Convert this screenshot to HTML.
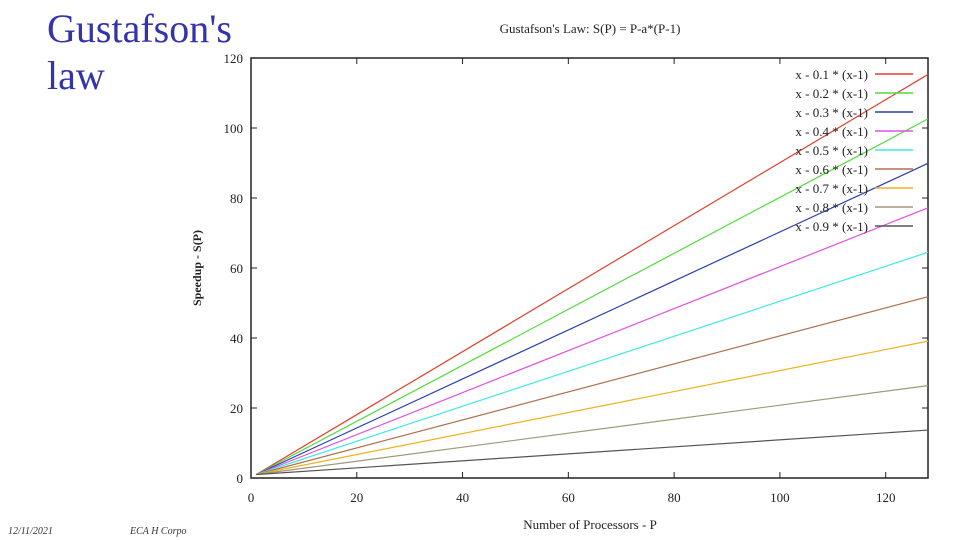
<!DOCTYPE html>
<html><head><meta charset="utf-8"><style>
html,body{margin:0;padding:0;background:#fff;width:960px;height:540px;overflow:hidden}
svg{display:block}
text{font-family:"Liberation Serif",serif}
</style></head><body>
<svg id="c" width="960" height="540">
<text x="47" y="42" font-size="40" fill="#3333aa">Gustafson's</text>
<text x="47" y="89" font-size="40" fill="#3333aa">law</text>
<text x="8" y="534" font-size="10" font-style="italic" fill="#333">12/11/2021</text>
<text x="130" y="534" font-size="10" font-style="italic" fill="#333">ECA  H Corpo</text>
<text x="590" y="33" font-size="13" text-anchor="middle" fill="#222">Gustafson's Law: S(P) = P-a*(P-1)</text>
<text x="590" y="529" font-size="13" text-anchor="middle" fill="#222">Number of Processors - P</text>
<text transform="translate(201,268) rotate(-90)" font-size="12" font-weight="bold" text-anchor="middle" fill="#222">Speedup - S(P)</text>
<g id="plot"></g>
</svg>
<script>
const alphas=[0.1,0.2,0.3,0.4,0.5,0.6,0.7,0.8,0.9];
const colors=["#e0402a","#4fdc3a","#2a3fb0","#e050e0","#40e8e8","#b07050","#f0b020","#a09878","#555555"];
const xTicks=[0,20,40,60,80,100,120];
const yTicks=[0,20,40,60,80,100,120];
const pMin=1,pMax=128;
const L=251,R=928,T=58,B=478,xMax=128,yMax=120;
const X=v=>L+(v/xMax)*(R-L);
const Y=v=>B-(v/yMax)*(B-T);
const NS="http://www.w3.org/2000/svg";
const g=document.getElementById('plot');
function el(t,a){const e=document.createElementNS(NS,t);for(const k in a)e.setAttribute(k,a[k]);g.appendChild(e);return e;}
const fr=el('rect',{x:L,y:T,width:R-L,height:B-T,fill:'none',stroke:'#222','stroke-width':1.5});


xTicks.forEach(v=>{
 const t=el('line',{x1:X(v),x2:X(v),y1:B,y2:B-6,stroke:'#222'});
 
 
 el('line',{x1:X(v),x2:X(v),y1:T,y2:T+6,stroke:'#222'});
 const l=el('text',{x:X(v),y:B+24,'font-size':13,'text-anchor':'middle',fill:'#222'});l.textContent=v;
 
 
});
yTicks.forEach(v=>{
 const t=el('line',{x1:L,x2:L+6,y1:Y(v),y2:Y(v),stroke:'#222'});
 
 
 el('line',{x1:R,x2:R-6,y1:Y(v),y2:Y(v),stroke:'#222'});
 const l=el('text',{x:L-8,y:Y(v)+5,'font-size':13,'text-anchor':'end',fill:'#222'});l.textContent=v;
 
 
});
alphas.forEach((a,i)=>{
 const y0=pMin-a*(pMin-1), y1=pMax-a*(pMax-1);
 const ln=el('line',{x1:X(pMin),y1:Y(y0),x2:X(pMax),y2:Y(y1),stroke:colors[i],'stroke-width':1.2});
 
 
 const ly=74+i*19;
 const tx=el('text',{x:868,y:ly+5,'font-size':13,'text-anchor':'end',fill:'#222'});
 tx.textContent='x - '+a+' * (x-1)';
 
 
 const ls=el('line',{x1:875,x2:913,y1:ly,y2:ly,stroke:colors[i],'stroke-width':1.5});
 
 
});
</script>
</body></html>
